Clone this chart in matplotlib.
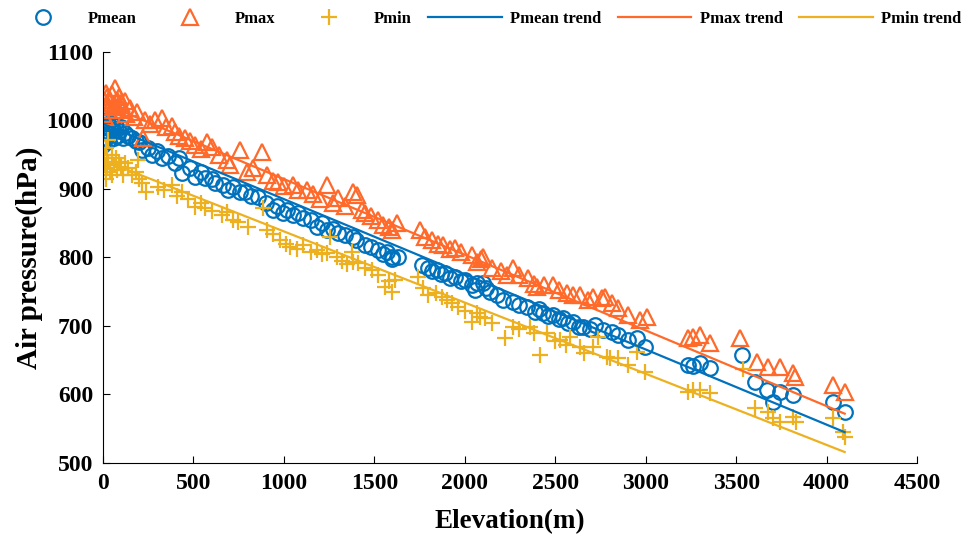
import matplotlib.pyplot as plt
from matplotlib.lines import Line2D

plt.rcParams['font.family'] = ['Liberation Serif', 'DejaVu Serif']
plt.rcParams['font.weight'] = 'bold'

# --- Data ---
mean_elev = [5, 10, 15, 20, 25, 30, 35, 40, 50, 60, 70, 80, 90, 100, 110, 120, 140, 160,
             180, 200, 0, 15, 30, 60,
             216, 250, 271, 300, 326, 360, 398, 420, 437, 480, 509, 540, 564, 600, 619,
             663, 691, 719, 760, 785, 820, 857, 900, 940, 960, 995, 1020, 1050, 1080,
             1106, 1150, 1183, 1210, 1238, 1270, 1299, 1340, 1382, 1400, 1448, 1480,
             1520, 1550, 1570, 1597, 1631, 1600, 1763, 1796, 1820, 1846, 1870, 1891,
             1920, 1946, 1980, 2001, 2040, 2067, 2056, 2101, 2120, 2139, 2180, 2211,
             2266, 2300, 2344, 2388, 2410, 2432, 2460, 2488, 2520, 2543, 2570, 2598,
             2630, 2653, 2690, 2720, 2764, 2814, 2847, 2902, 2952, 2996, 3234, 3261,
             3300, 3355, 3532, 3604, 3670, 3704, 3742, 3814, 4035, 4102]
mean_p = [998, 992, 985, 1000, 990, 995, 980, 988, 996, 985, 992, 978, 985, 990, 975, 982,
          978, 975, 970, 968, 964, 975, 970, 975,
          957, 960, 950, 955, 945, 948, 938, 945, 923, 930, 918, 925, 916, 915, 909,
          906, 899, 903, 895, 896, 890, 888, 880, 869, 875, 865, 870, 862, 865,
          858, 855, 845, 850, 840, 842, 836, 833, 830, 825, 818, 815,
          811, 805, 808, 801, 801, 798, 789, 785, 780, 782, 776, 777,
          770, 772, 765, 767, 760, 763, 752, 763, 755, 750, 745, 738,
          735, 730, 728, 720, 725, 719, 715, 716, 710, 712, 705, 706,
          698, 699, 695, 701, 694, 691, 687, 680, 682, 669, 643, 642,
          646, 639, 658, 618, 607, 589, 604, 599, 589, 574]

max_elev = [5, 10, 15, 20, 25, 30, 40, 50, 60, 66, 75, 80, 90, 100, 110, 120, 130, 150,
            170, 190, 0, 10,
            221, 230, 260, 290, 326, 350, 380, 398, 420, 453, 480, 509, 540, 575, 603,
            640, 685, 700, 757, 796, 830, 879, 906, 940, 967, 1000, 1050, 1080, 1128,
            1160, 1200, 1238, 1270, 1299, 1340, 1382, 1404, 1430, 1448, 1480, 1520,
            1550, 1580, 1625, 1600, 1752, 1780, 1819, 1850, 1880, 1920, 1946, 1980,
            2040, 2067, 2090, 2101, 2150, 2200, 2233, 2266, 2300, 2349, 2380, 2399,
            2440, 2488, 2520, 2565, 2600, 2637, 2680, 2709, 2758, 2775, 2814, 2847,
            2902, 2969, 3007, 3234, 3261, 3300, 3355, 3521, 3615, 3676, 3742, 3814,
            3825, 4035, 4102]
max_p = [1030, 1020, 1040, 1025, 1035, 1015, 1030, 1038, 1022, 1047, 1030, 1020, 1035,
         1025, 1015, 1028, 1010, 1018, 1005, 1012, 1010, 1005,
         974, 1000, 995, 1000, 1004, 990, 992, 983, 978, 974, 970, 964, 958, 969, 961,
         950, 942, 935, 957, 925, 930, 954, 920, 912, 910, 905, 906, 898, 898,
         892, 885, 906, 880, 887, 875, 896, 891, 870, 865, 860, 855,
         848, 845, 850, 840, 840, 830, 826, 820, 818, 812, 814, 808,
         804, 793, 798, 801, 785, 780, 774, 785, 775, 770, 762, 757,
         760, 760, 752, 748, 745, 745, 738, 742, 741, 742, 734, 726,
         716, 709, 713, 682, 684, 687, 675, 682, 647, 640, 640, 631,
         626, 614, 604]

min_elev = [5, 10, 15, 20, 25, 28, 30, 40, 50, 60, 70, 80, 90, 100, 110, 120, 140, 160,
            180, 193, 200, 0, 15, 50,
            216, 240, 304, 340, 381, 410, 437, 470, 509, 540, 564, 600, 658, 685, 720,
            746, 800, 884, 906, 940, 978, 1010, 1034, 1070, 1106, 1150, 1183, 1210,
            1238, 1255, 1293, 1320, 1350, 1382, 1376, 1410, 1450, 1487, 1520, 1559,
            1580, 1614, 1600, 1741, 1770, 1796, 1840, 1874, 1900, 1929, 1960, 2000,
            2040, 2067, 2084, 2112, 2150, 2222, 2266, 2300, 2360, 2380, 2416, 2454,
            2500, 2526, 2560, 2582, 2637, 2660, 2709, 2736, 2786, 2803, 2847, 2902,
            2952, 2996, 3234, 3261, 3300, 3355, 3538, 3604, 3676, 3704, 3742, 3814,
            3830, 4035, 4090, 4102]
min_p = [950, 935, 960, 945, 930, 971, 940, 925, 950, 935, 945, 928, 940, 932, 920, 938,
         930, 920, 925, 942, 915, 925, 915, 920,
         909, 895, 903, 898, 906, 890, 896, 885, 874, 880, 872, 868, 862, 866, 855,
         852, 845, 872, 840, 835, 826, 820, 815, 812, 818, 808, 811, 805,
         807, 830, 801, 795, 790, 793, 808, 792, 785, 782, 775, 757,
         765, 767, 750, 772, 755, 745, 748, 742, 738, 734, 728, 722,
         706, 719, 713, 712, 705, 683, 699, 695, 699, 690, 658, 690,
         678, 680, 672, 684, 669, 660, 669, 684, 655, 653, 653, 643,
         662, 633, 604, 607, 607, 602, 637, 580, 574, 566, 560, 567,
         560, 566, 545, 538]

# trend lines (end points)
trend_elev = [0, 4100]
mean_trend = [995, 545]
max_trend = [1025, 572]
min_trend = [942, 516]

c_mean = '#0072BD'
c_max = '#FF6A2A'
c_min = '#EDB120'

fig = plt.figure(figsize=(9.65, 5.36), dpi=100)
ax = fig.add_axes([0.1067, 0.1362, 0.8436, 0.7668])

mk_mean = dict(marker='o', ms=10.5, mfc='none', mec=c_mean, mew=1.6, ls='none')
mk_max = dict(marker='^', ms=12, mfc='none', mec=c_max, mew=1.6, ls='none')
mk_min = dict(marker='+', ms=11.5, mec=c_min, mew=1.6, ls='none')

ax.plot(mean_elev, mean_p, **mk_mean)
ax.plot(max_elev, max_p, **mk_max)
ax.plot(min_elev, min_p, **mk_min)
ax.plot(trend_elev, mean_trend, color=c_mean, lw=1.6)
ax.plot(trend_elev, max_trend, color=c_max, lw=1.6)
ax.plot(trend_elev, min_trend, color=c_min, lw=1.6)

ax.set_xlim(0, 4500)
ax.set_ylim(500, 1100)
ax.set_xticks(range(0, 4501, 500))
ax.set_yticks(range(500, 1101, 100))
ax.spines['top'].set_visible(False)
ax.spines['right'].set_visible(False)
ax.tick_params(direction='in', length=5, labelsize=17, pad=7)
for lab in ax.get_xticklabels() + ax.get_yticklabels():
    lab.set_fontweight('bold')
ax.set_xlabel('Elevation(m)', fontsize=19.5, fontweight='bold', labelpad=11)
ax.set_ylabel('Air pressure(hPa)', fontsize=21, fontweight='bold', labelpad=2)

handles = [Line2D([], [], **mk_mean), Line2D([], [], **mk_max), Line2D([], [], **mk_min),
           Line2D([], [], color=c_mean, lw=1.6),
           Line2D([], [], color=c_max, lw=1.6),
           Line2D([], [], color=c_min, lw=1.6)]
labels = ['Pmean', 'Pmax', 'Pmin', 'Pmean trend', 'Pmax trend', 'Pmin trend']
fig.legend(handles, labels, loc='center left', bbox_to_anchor=(6 / 965, 0.965), ncol=6,
           frameon=False, handlelength=4.4, columnspacing=1.0, handletextpad=0.5,
           borderpad=0, borderaxespad=0, prop={'weight': 'bold', 'size': 12})

fig.savefig('out.png', dpi=100)
